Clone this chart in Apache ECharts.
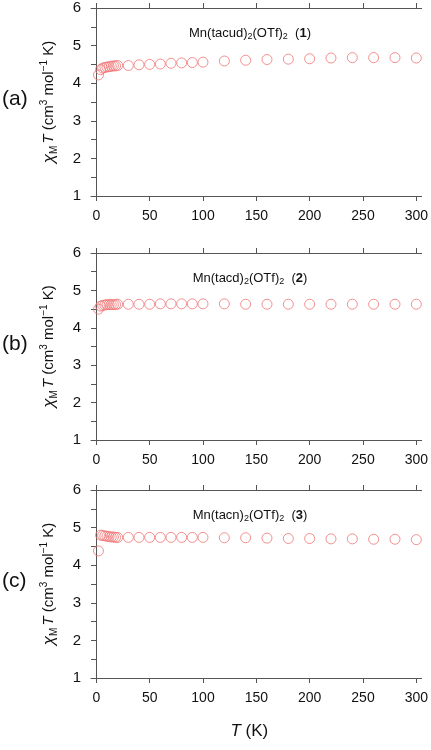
<!DOCTYPE html>
<html>
<head>
<meta charset="utf-8">
<script src="https://cdn.jsdelivr.net/npm/echarts@6/dist/echarts.min.js"></script>
<style>html,body{margin:0;padding:0;background:#fff}#c{width:431px;height:750px}</style>
</head>
<body>
<div id="c"></div>
<script>
// ---- data ----
var temps = [2,4,6,8,10,12,14,16,18,20,30,40,50,60,70,80,90,100,120,140,160,180,200,220,240,260,280,300];
var chiT1 = [4.22,4.36,4.40,4.42,4.43,4.44,4.45,4.46,4.46,4.47,4.47,4.49,4.50,4.51,4.53,4.54,4.55,4.56,4.59,4.61,4.63,4.64,4.65,4.67,4.68,4.68,4.68,4.67];
var chiT2 = [4.50,4.58,4.60,4.61,4.62,4.62,4.62,4.62,4.62,4.63,4.63,4.63,4.63,4.64,4.64,4.64,4.64,4.64,4.64,4.63,4.63,4.63,4.63,4.63,4.63,4.63,4.63,4.63];
var chiT3 = [4.38,4.80,4.79,4.78,4.77,4.76,4.75,4.75,4.74,4.74,4.74,4.74,4.74,4.74,4.74,4.74,4.74,4.74,4.73,4.73,4.72,4.71,4.71,4.70,4.70,4.69,4.69,4.68];
var xTicks = [0,50,100,150,200,250,300];
var panelLabels = ['(a)','(b)','(c)'];
var compoundNames = [['tacud','1'],['tacd','2'],['tacn','3']];

var font = "'Liberation Sans', Arial, sans-serif";
var axisCol = '#555';
var ptCol = '#f07474';
var grids = [{top:8,height:188},{top:253,height:187},{top:490,height:188}];
var seriesData = [chiT1, chiT2, chiT3];

var option = {backgroundColor:'#fff', animation:false, grid:[], xAxis:[], yAxis:[], series:[], title:[], graphic:[]};

grids.forEach(function(g, i){
  option.grid.push({left:91, width:331, top:g.top, height:g.height});
  // bottom x
  option.xAxis.push({type:'value', gridIndex:i, position:'bottom', min:-5, max:305,
    axisLine:{show:true, lineStyle:{color:axisCol, width:1}},
    axisTick:{show:true, inside:false, length:5, customValues:xTicks, lineStyle:{color:axisCol}},
    axisLabel:{show:true, customValues:xTicks, margin:13, fontSize:14, color:'#111', fontFamily:font},
    splitLine:{show:false},
    name: i===2 ? '{it|T} (K)' : '',
    nameLocation:'middle', nameGap:45,
    nameTextStyle:{fontSize:17, color:'#111', fontFamily:font, padding:[0,14,0,0], rich:{it:{fontStyle:'italic', fontSize:17, fontFamily:font, color:'#111'}}}
  });
  // top x
  option.xAxis.push({type:'value', gridIndex:i, position:'top', min:-5, max:305,
    axisLine:{show:true, lineStyle:{color:axisCol, width:1}},
    axisTick:{show:true, inside:false, length:5, customValues:xTicks, lineStyle:{color:axisCol}},
    axisLabel:{show:false}, splitLine:{show:false}
  });
  // left y
  option.yAxis.push({type:'value', gridIndex:i, position:'left', min:1, max:6, interval:1,
    axisLine:{show:true, lineStyle:{color:axisCol, width:1}},
    axisTick:{show:true, inside:false, length:5, lineStyle:{color:axisCol}},
    axisLabel:{show:true, margin:10, fontSize:15, color:'#111', fontFamily:font},
    splitLine:{show:false},
    name:'{chi|χ}{sub|M}{it|T} (cm{sup|3} mol{sup|−1} K)',
    nameLocation:'middle', nameRotate:90, nameGap:32,
    nameTextStyle:{fontSize:15, color:'#111', fontFamily:font, lineHeight:20,
      rich:{
        chi:{fontStyle:'italic', fontSize:17, fontFamily:font, color:'#111', lineHeight:20},
        it:{fontStyle:'italic', fontSize:15, fontFamily:font, color:'#111', lineHeight:20, padding:[0,0,0,2]},
        sub:{fontSize:10, fontFamily:font, color:'#111', lineHeight:10, verticalAlign:'bottom'},
        sup:{fontSize:10, fontFamily:font, color:'#111', lineHeight:10, verticalAlign:'top'}
      }}
  });
  // right y
  option.yAxis.push({type:'value', gridIndex:i, position:'right', min:1, max:6, interval:0.5,
    axisLine:{show:true, lineStyle:{color:axisCol, width:1}},
    axisTick:{show:true, inside:true, length:4, lineStyle:{color:axisCol}},
    axisLabel:{show:false}, splitLine:{show:false}
  });
  // left minor (inside)
  option.yAxis.push({type:'value', gridIndex:i, position:'left', min:1, max:6, interval:0.5,
    axisLine:{show:false},
    axisTick:{show:true, inside:true, length:4, lineStyle:{color:axisCol}},
    axisLabel:{show:false}, splitLine:{show:false}
  });

  option.series.push({type:'scatter', xAxisIndex:i*2, yAxisIndex:i*3,
    data: temps.map(function(t, k){ return [t, seriesData[i][k]]; }),
    symbol:'circle', symbolSize:10,
    itemStyle:{color:'rgba(0,0,0,0)', borderColor:ptCol, borderWidth:1}
  });

  option.title.push({
    text:'Mn(' + compoundNames[i][0] + '){s|2}(OTf){s|2}  ({b|' + compoundNames[i][1] + '})',
    left:245, top:g.top + 12, textAlign:'center',
    textStyle:{fontSize:13, fontWeight:'normal', color:'#111', fontFamily:font, lineHeight:16,
      rich:{s:{fontSize:9, fontFamily:font, color:'#111', lineHeight:8, verticalAlign:'bottom'},
            b:{fontSize:13, fontWeight:'bold', fontFamily:font, color:'#111', lineHeight:16}}}
  });
  option.graphic.push({type:'text', left:2, top:g.top + g.height/2 - 13,
    style:{text:panelLabels[i], fontSize:21, fill:'#111', fontFamily:font}});
});

var chart = echarts.init(document.getElementById('c'), null, {renderer:'canvas'});
chart.setOption(option);
</script>
</body>
</html>
